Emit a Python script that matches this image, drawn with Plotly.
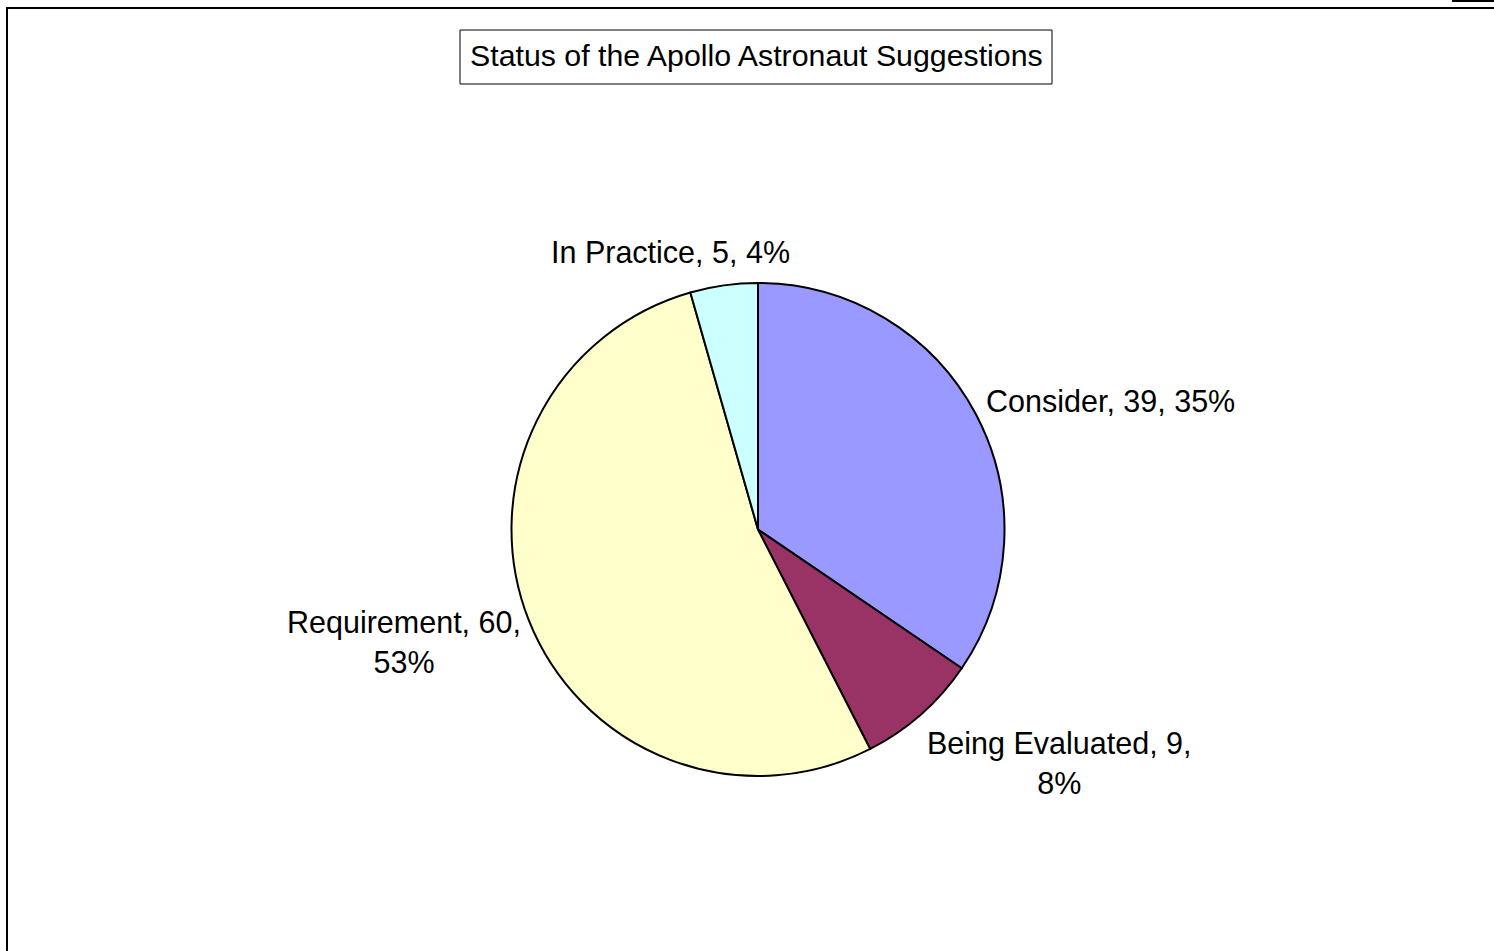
import plotly.graph_objects as go

categories = ["Consider", "Being Evaluated", "Requirement", "In Practice"]
values = [39, 9, 60, 5]
colors = ["#9999FF", "#993366", "#FFFFCC", "#CCFFFF"]
title_text = "Status of the Apollo Astronaut Suggestions"

W, H = 1494, 951
FONT = "Liberation Sans, Arial, sans-serif"

total = sum(values)
pct = [round(100 * v / total) for v in values]
label_text = [
    f"{categories[0]}, {values[0]}, {pct[0]}%",
    f"{categories[1]}, {values[1]},<br>{pct[1]}%",
    f"{categories[2]}, {values[2]},<br>{pct[2]}%",
    f"{categories[3]}, {values[3]}, {pct[3]}%",
]
# label anchor positions in pixels (x, y from top) and x anchors
label_pos = [(984, 401, "left"), (1059, 763, "center"), (404, 642, "center"), (670, 252, "center")]

def px(x):
    return x / W

def py(y):
    return 1 - y / H

fig = go.Figure(go.Pie(
    labels=categories,
    values=values,
    sort=False,
    direction="clockwise",
    rotation=0,
    marker=dict(colors=colors, line=dict(color="black", width=2)),
    textinfo="none",
    hoverinfo="label+value+percent",
    showlegend=False,
    domain=dict(x=[px(511), px(1005)], y=[py(776), py(283)]),
))

annotations = []
for txt, (x, y, xa) in zip(label_text, label_pos):
    annotations.append(dict(
        x=px(x), y=py(y), xref="paper", yref="paper",
        text=txt, showarrow=False, xanchor=xa, yanchor="middle", align="center",
        font=dict(family=FONT, size=30.5, color="black"),
    ))

annotations.append(dict(
    x=px(756), y=py(56), xref="paper", yref="paper",
    text=title_text, showarrow=False, xanchor="center", yanchor="middle",
    font=dict(family=FONT, size=30.3, color="black"),
))

shapes = [
    dict(type="rect", xref="paper", yref="paper",
         x0=px(7), x1=1.05, y0=-0.05, y1=py(8),
         line=dict(color="black", width=2), fillcolor="rgba(0,0,0,0)", layer="above"),
    dict(type="rect", xref="paper", yref="paper",
         x0=px(1453), x1=1.05, y0=py(1), y1=1.05,
         line=dict(color="black", width=2), fillcolor="rgba(0,0,0,0)", layer="above"),
    dict(type="rect", xref="paper", yref="paper",
         x0=px(460), x1=px(1052), y0=py(84), y1=py(30),
         line=dict(color="black", width=1), fillcolor="rgba(0,0,0,0)", layer="below"),
]

fig.update_layout(
    width=W, height=H,
    margin=dict(l=0, r=0, t=0, b=0),
    paper_bgcolor="white", plot_bgcolor="white",
    annotations=annotations,
    shapes=shapes,
    font=dict(family=FONT),
)

fig.write_html("out.html")
